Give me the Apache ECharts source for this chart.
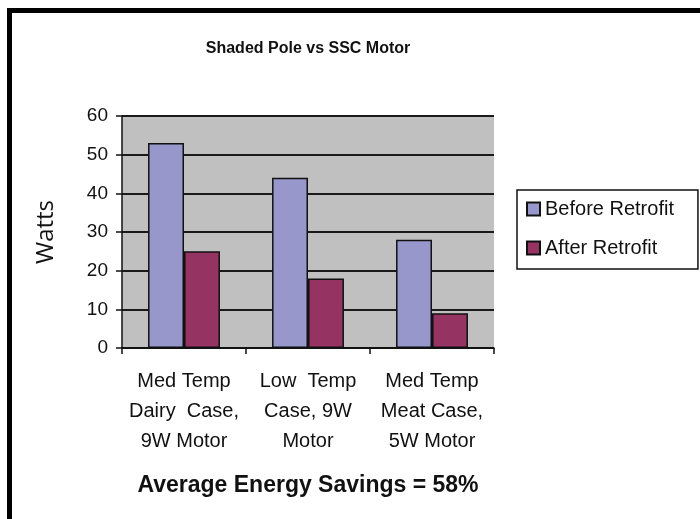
<!DOCTYPE html>
<html>
<head>
<meta charset="utf-8">
<script src="https://cdn.jsdelivr.net/npm/echarts@6/dist/echarts.min.js"></script>
<style>
  html, body { margin: 0; padding: 0; background: #fff; }
  #chart { width: 700px; height: 519px; }
</style>
</head>
<body>
<div id="chart"></div>
<script>
// data
const categories = [
  'Med Temp\nDairy  Case,\n9W Motor',
  'Low  Temp\nCase, 9W\nMotor',
  'Med Temp\nMeat Case,\n5W Motor'
];
const seriesNames = ['Before Retrofit', 'After Retrofit'];
const beforeRetrofit = [53, 44, 28];
const afterRetrofit = [25, 18, 9];
const yTicks = [0, 10, 20, 30, 40, 50, 60];

const font = '"Liberation Sans", Arial, sans-serif';

const chart = echarts.init(document.getElementById('chart'));

const option = {
  animation: false,
  backgroundColor: '#fff',
  title: {
    text: 'Shaded Pole vs SSC Motor',
    left: 303,
    top: 36,
    textAlign: 'center',
    textStyle: { fontFamily: font, fontSize: 16, fontWeight: 'bold', color: '#111' }
  },
  graphic: [
    // frame round the chart
    { type: 'rect', shape: { x: 7, y: 8, width: 700, height: 5 }, style: { fill: '#000' } },
    { type: 'rect', shape: { x: 7, y: 8, width: 5, height: 520 }, style: { fill: '#000' } },
    {
      type: 'text',
      style: {
        x: 308, y: 486,
        text: 'Average Energy Savings = 58%',
        font: 'bold 23px ' + font, fill: '#111',
        align: 'center', verticalAlign: 'middle'
      }
    }
  ],
  legend: {
    data: seriesNames,
    orient: 'vertical',
    left: 517,
    top: 190,
    padding: [9, 24, 11, 9],
    itemGap: 19,
    itemWidth: 13,
    itemHeight: 13,
    icon: 'rect',
    borderColor: '#111',
    borderWidth: 1.5,
    borderRadius: 0,
    textStyle: { fontFamily: font, fontSize: 20, lineHeight: 20, color: '#111' }
  },
  grid: { left: 122, top: 116, right: 206, bottom: 171, show: true, backgroundColor: '#c0c0c0', borderWidth: 0 },
  xAxis: {
    type: 'category',
    data: categories,
    axisLine: { show: true, lineStyle: { color: '#111', width: 1.5 } },
    axisTick: { show: true, interval: 0, alignWithLabel: false, length: 6, inside: false, lineStyle: { color: '#111', width: 1.5 } },
    axisLabel: { interval: 0, hideOverlap: false, fontFamily: font, fontSize: 20, lineHeight: 30, color: '#111', margin: 18 }
  },
  yAxis: {
    type: 'value',
    min: yTicks[0],
    max: yTicks[yTicks.length - 1],
    interval: 10,
    name: 'Watts',
    nameLocation: 'middle',
    nameGap: 64,
    nameRotate: 90,
    nameTextStyle: { fontFamily: '"Open Sans", "Noto Sans", sans-serif', fontSize: 24, color: '#111' },
    axisLine: { show: true, lineStyle: { color: '#111', width: 1.5 } },
    axisTick: { show: true, length: 6, lineStyle: { color: '#111', width: 1.5 } },
    axisLabel: { fontFamily: font, fontSize: 19, color: '#111', margin: 14 },
    splitLine: { show: true, lineStyle: { color: '#1a1a1a', width: 1.8 } }
  },
  series: [
    {
      name: seriesNames[0],
      type: 'bar',
      data: beforeRetrofit,
      barGap: '0%',
      barCategoryGap: '42%',
      itemStyle: { color: '#9797cb', borderColor: '#111', borderWidth: 1.5 }
    },
    {
      name: seriesNames[1],
      type: 'bar',
      data: afterRetrofit,
      barGap: '0%',
      barCategoryGap: '42%',
      itemStyle: { color: '#953363', borderColor: '#111', borderWidth: 1.5 }
    }
  ]
};

chart.setOption(option);
</script>
</body>
</html>
